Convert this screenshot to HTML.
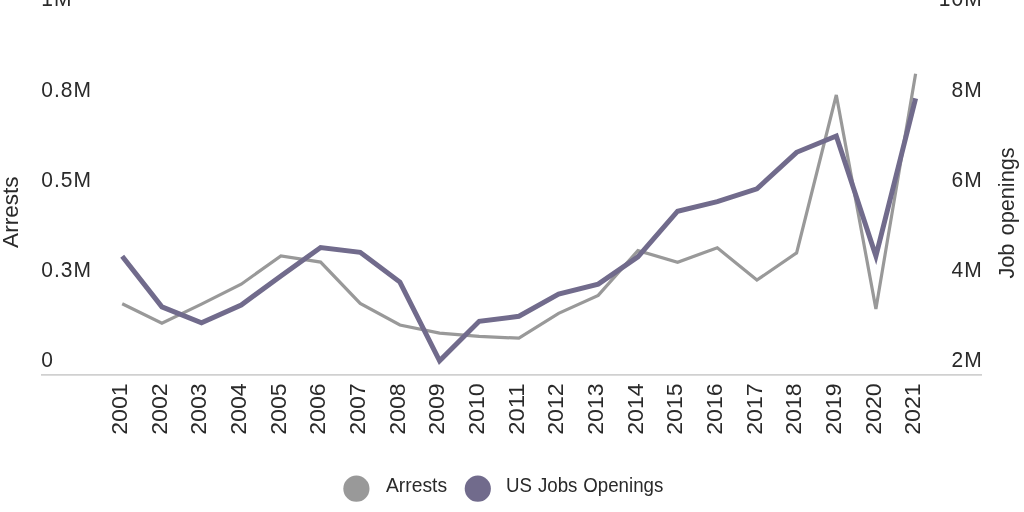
<!DOCTYPE html>
<html lang="en"><head><meta charset="utf-8"><title>Arrests and US Jobs Openings</title>
<style>
html,body{margin:0;padding:0;background:#fff;}
body{width:1024px;height:512px;overflow:hidden;}
svg{display:block;font-family:"Liberation Sans",sans-serif;}
text{fill:#2a2a2a;}
</style></head><body>
<svg width="1024" height="512" viewBox="0 0 1024 512">
<rect width="1024" height="512" fill="#ffffff"/>
<line x1="41" x2="982" y1="374.9" y2="374.9" stroke="#d0d0d0" stroke-width="1.8"/>
<text transform="translate(41.3,6) scale(1,1.035)" font-size="21" letter-spacing="1">1M</text>
<text transform="translate(41.3,97) scale(1,1.035)" font-size="21" letter-spacing="1">0.8M</text>
<text transform="translate(41.3,187) scale(1,1.035)" font-size="21" letter-spacing="1">0.5M</text>
<text transform="translate(41.3,277) scale(1,1.035)" font-size="21" letter-spacing="1">0.3M</text>
<text transform="translate(41.3,367) scale(1,1.035)" font-size="21" letter-spacing="1">0</text>
<text transform="translate(982.7,6) scale(1,1.035)" font-size="21" letter-spacing="1" text-anchor="end">10M</text>
<text transform="translate(982.7,97) scale(1,1.035)" font-size="21" letter-spacing="1" text-anchor="end">8M</text>
<text transform="translate(982.7,187) scale(1,1.035)" font-size="21" letter-spacing="1" text-anchor="end">6M</text>
<text transform="translate(982.7,277) scale(1,1.035)" font-size="21" letter-spacing="1" text-anchor="end">4M</text>
<text transform="translate(982.7,367) scale(1,1.035)" font-size="21" letter-spacing="1" text-anchor="end">2M</text>
<text transform="translate(17.9,247.9) rotate(-90)" font-size="22.6">Arrests</text>
<text transform="translate(1013.7,278.6) rotate(-90)" font-size="22" word-spacing="2.2" textLength="131.3" lengthAdjust="spacingAndGlyphs">Job openings</text>
<text transform="translate(126.9,383.4) rotate(-90)" font-size="22.5" text-anchor="end" textLength="51.4" lengthAdjust="spacingAndGlyphs">2001</text>
<text transform="translate(166.6,383.4) rotate(-90)" font-size="22.5" text-anchor="end" textLength="51.4" lengthAdjust="spacingAndGlyphs">2002</text>
<text transform="translate(206.2,383.4) rotate(-90)" font-size="22.5" text-anchor="end" textLength="51.4" lengthAdjust="spacingAndGlyphs">2003</text>
<text transform="translate(245.9,383.4) rotate(-90)" font-size="22.5" text-anchor="end" textLength="51.4" lengthAdjust="spacingAndGlyphs">2004</text>
<text transform="translate(285.6,383.4) rotate(-90)" font-size="22.5" text-anchor="end" textLength="51.4" lengthAdjust="spacingAndGlyphs">2005</text>
<text transform="translate(325.2,383.4) rotate(-90)" font-size="22.5" text-anchor="end" textLength="51.4" lengthAdjust="spacingAndGlyphs">2006</text>
<text transform="translate(364.9,383.4) rotate(-90)" font-size="22.5" text-anchor="end" textLength="51.4" lengthAdjust="spacingAndGlyphs">2007</text>
<text transform="translate(404.6,383.4) rotate(-90)" font-size="22.5" text-anchor="end" textLength="51.4" lengthAdjust="spacingAndGlyphs">2008</text>
<text transform="translate(444.3,383.4) rotate(-90)" font-size="22.5" text-anchor="end" textLength="51.4" lengthAdjust="spacingAndGlyphs">2009</text>
<text transform="translate(483.9,383.4) rotate(-90)" font-size="22.5" text-anchor="end" textLength="51.4" lengthAdjust="spacingAndGlyphs">2010</text>
<text transform="translate(523.6,383.4) rotate(-90)" font-size="22.5" text-anchor="end" textLength="51.4" lengthAdjust="spacingAndGlyphs">2011</text>
<text transform="translate(563.3,383.4) rotate(-90)" font-size="22.5" text-anchor="end" textLength="51.4" lengthAdjust="spacingAndGlyphs">2012</text>
<text transform="translate(602.9,383.4) rotate(-90)" font-size="22.5" text-anchor="end" textLength="51.4" lengthAdjust="spacingAndGlyphs">2013</text>
<text transform="translate(642.6,383.4) rotate(-90)" font-size="22.5" text-anchor="end" textLength="51.4" lengthAdjust="spacingAndGlyphs">2014</text>
<text transform="translate(682.3,383.4) rotate(-90)" font-size="22.5" text-anchor="end" textLength="51.4" lengthAdjust="spacingAndGlyphs">2015</text>
<text transform="translate(722.0,383.4) rotate(-90)" font-size="22.5" text-anchor="end" textLength="51.4" lengthAdjust="spacingAndGlyphs">2016</text>
<text transform="translate(761.6,383.4) rotate(-90)" font-size="22.5" text-anchor="end" textLength="51.4" lengthAdjust="spacingAndGlyphs">2017</text>
<text transform="translate(801.3,383.4) rotate(-90)" font-size="22.5" text-anchor="end" textLength="51.4" lengthAdjust="spacingAndGlyphs">2018</text>
<text transform="translate(841.0,383.4) rotate(-90)" font-size="22.5" text-anchor="end" textLength="51.4" lengthAdjust="spacingAndGlyphs">2019</text>
<text transform="translate(880.6,383.4) rotate(-90)" font-size="22.5" text-anchor="end" textLength="51.4" lengthAdjust="spacingAndGlyphs">2020</text>
<text transform="translate(920.3,383.4) rotate(-90)" font-size="22.5" text-anchor="end" textLength="51.4" lengthAdjust="spacingAndGlyphs">2021</text>
<path d="M122.2,303.8 L161.9,323.1 L201.5,304.1 L241.2,284.2 L280.9,255.9 L320.6,262.1 L360.2,303.4 L399.9,325.0 L439.6,333.1 L479.2,336.4 L518.9,338.2 L558.6,313.4 L598.2,295.4 L637.9,250.6 L677.6,262.2 L717.3,247.8 L756.9,280.1 L796.6,252.9 L836.3,95.0 L875.9,308.9 L915.6,73.8" fill="none" stroke="#999999" stroke-width="3.2"/>
<path d="M122.2,256.3 L161.9,306.9 L201.5,322.9 L241.2,305.0 L280.9,276.0 L320.6,247.5 L360.2,252.3 L399.9,282.1 L439.6,360.8 L479.2,321.3 L518.9,316.3 L558.6,294.1 L598.2,284.1 L637.9,256.9 L677.6,211.2 L717.3,201.6 L756.9,188.8 L796.6,152.3 L836.3,136.0 L875.9,256.0 L915.6,98.3" fill="none" stroke="#716b8c" stroke-width="5"/>
<circle cx="356.4" cy="488.7" r="13.1" fill="#999999"/>
<text x="386" y="491.6" font-size="20" textLength="61.1" lengthAdjust="spacingAndGlyphs">Arrests</text>
<circle cx="477.8" cy="488.7" r="13.1" fill="#716b8c"/>
<text x="506.1" y="491.6" font-size="20" word-spacing="0.7" textLength="157.2" lengthAdjust="spacingAndGlyphs">US Jobs Openings</text>
</svg>
</body></html>
